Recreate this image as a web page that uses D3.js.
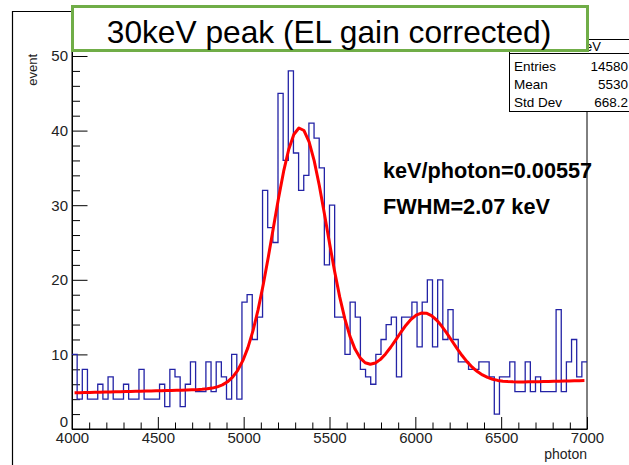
<!DOCTYPE html>
<html>
<head>
<meta charset="utf-8">
<script src="https://cdn.jsdelivr.net/npm/d3@7"></script>
<style>
  html, body { margin: 0; padding: 0; background: #fff; }
  svg { display: block; font-family: "Liberation Sans", Arial, Helvetica, sans-serif; }
</style>
</head>
<body>
<svg id="chart" width="629" height="465"></svg>
<script>
// Histogram: 100 bins of 30 photons from 4000 to 7000
const binStart = 4000;
const binWidth = 30;
const counts = [
  10, 4, 8, 4, 4, 6, 4, 7, 4, 4,
  6, 4, 4, 8, 4, 4, 4, 6, 3, 8,
  7, 3, 6, 9, 5, 5, 9, 5, 9, 7,
  4, 10, 4, 17, 18, 12, 15, 32, 27, 25,
  45, 36, 48, 37, 32, 34, 41, 39, 35, 22,
  30, 15, 15, 10, 17, 15, 8, 7, 6, 10,
  12, 14, 15, 7, 15, 15, 17, 11, 17, 20,
  11, 20, 12, 16, 12, 9, 9, 8, 8, 9,
  9, 7, 2, 7, 7, 9, 5, 5, 9, 5,
  7, 5, 5, 5, 16, 5, 9, 12, 7, 9
];

const xTicks = [4000, 4500, 5000, 5500, 6000, 6500, 7000];
const yTicks = [0, 10, 20, 30, 40, 50];

// Fit: two gaussians on a linear background
const keVPerPhoton = 0.00557;
const fwhmKeV = 2.07;
const peakMeans = [5328, 6046];
const peakAmps = [34.8, 9.6];
const secondSigma = [165];
const bgLevels = [4.85, 6.5];     // background at 4000 and at 7000
const fitRange = [4015, 6985];

const statNames = ["Entries", "Mean", "Std Dev"];
const statValues = ["14580", "5530", "668.2"];

const titleText = "30keV peak (EL gain corrected)";
const noteLines = ["keV/photon=" + keVPerPhoton, "FWHM=" + fwhmKeV + " keV"];

const svg = d3.select("#chart");
const x = d3.scaleLinear().domain([4000, 7000]).range([72, 587]);
const y = d3.scaleLinear().domain([0, 50.67]).range([429, 51]);

// canvas border (left and top)
svg.append("path").attr("d", "M12.5,465 V11.5 H90").attr("fill", "none").attr("stroke", "#000").attr("stroke-width", 1.2);

// frame
svg.append("rect")
  .attr("x", x(4000)).attr("y", y(50.67))
  .attr("width", x(7000) - x(4000)).attr("height", y(0) - y(50.67))
  .attr("fill", "none").attr("stroke", "#000").attr("stroke-width", 1);

// x axis: major and minor ticks pointing into the frame
const xMinor = d3.range(4000, 7001, 100).filter(v => v % 500 !== 0);
svg.append("g").attr("transform", `translate(0,${y(0)})`)
  .call(d3.axisBottom(x).tickValues(xMinor).tickFormat("").tickSize(-6.5).tickSizeOuter(0))
  .call(g => g.select(".domain").remove());
const gx = svg.append("g").attr("transform", `translate(0,${y(0)})`)
  .call(d3.axisBottom(x).tickValues(xTicks).tickFormat(d3.format("d")).tickSize(-12).tickSizeOuter(0).tickPadding(3));
gx.select(".domain").attr("stroke", "#000");
gx.selectAll("text").attr("font-size", 15).attr("fill", "#222").attr("font-family", "Liberation Sans, Arial, sans-serif");

// y axis
const yMinor = d3.range(0, 51, 2).filter(v => v % 10 !== 0);
svg.append("g").attr("transform", `translate(${x(4000)},0)`)
  .call(d3.axisLeft(y).tickValues(yMinor).tickFormat("").tickSize(-8).tickSizeOuter(0))
  .call(g => g.select(".domain").remove());
const gy = svg.append("g").attr("transform", `translate(${x(4000)},0)`)
  .call(d3.axisLeft(y).tickValues(yTicks).tickFormat(d3.format("d")).tickSize(-15.5).tickSizeOuter(0).tickPadding(4));
gy.select(".domain").attr("stroke", "#000");
gy.selectAll("text").attr("font-size", 15).attr("fill", "#222").attr("font-family", "Liberation Sans, Arial, sans-serif");
// lift the zero label clear of the x-axis labels
gy.selectAll(".tick").filter(d => d === 0).select("text").attr("y", -7);

// axis titles
svg.append("text").attr("x", 587).attr("y", 459).attr("text-anchor", "end")
  .attr("font-size", 14).attr("fill", "#222").text("photon");
svg.append("text").attr("transform", "translate(37,54) rotate(-90)").attr("text-anchor", "end")
  .attr("font-size", 13).attr("fill", "#222").text("event");

// histogram outline
const histPts = [];
counts.forEach((c, i) => {
  const lo = binStart + i * binWidth;
  histPts.push([lo, c], [lo + binWidth, c]);
});
svg.append("path")
  .attr("d", d3.line().x(d => x(d[0])).y(d => y(d[1]))(histPts))
  .attr("fill", "none").attr("stroke", "#2323a6").attr("stroke-width", 1.3);

// fit curve
const firstSigma = fwhmKeV / keVPerPhoton / (2 * Math.sqrt(2 * Math.log(2)));
const sigmas = [firstSigma, secondSigma[0]];
function fitValue(p) {
  const bg = bgLevels[0] + (bgLevels[1] - bgLevels[0]) * (p - 4000) / 3000;
  let s = bg;
  peakMeans.forEach((m, k) => {
    s += peakAmps[k] * Math.exp(-0.5 * Math.pow((p - m) / sigmas[k], 2));
  });
  return s;
}
const fitPts = d3.range(0, 101).map(k => {
  const p = fitRange[0] + (fitRange[1] - fitRange[0]) * k / 100;
  return [p, fitValue(p)];
});
svg.append("path")
  .attr("d", d3.line().x(d => x(d[0])).y(d => y(d[1]))(fitPts))
  .attr("fill", "none").attr("stroke", "#ff0000").attr("stroke-width", 3).attr("stroke-linejoin", "round");

// fit annotations
noteLines.forEach((t, i) => {
  svg.append("text").attr("x", 383).attr("y", 178 + i * 36)
    .attr("font-size", 21.7).attr("font-weight", "bold").attr("fill", "#000").text(t);
});

// statistics box
const sb = svg.append("g");
sb.append("rect").attr("x", 509.5).attr("y", 39.5).attr("width", 140).attr("height", 72)
  .attr("fill", "#fff").attr("stroke", "#000").attr("stroke-width", 1);
sb.append("line").attr("x1", 509.5).attr("x2", 629).attr("y1", 53.5).attr("y2", 53.5).attr("stroke", "#000");
sb.append("text").attr("x", 601).attr("y", 50.5).attr("text-anchor", "end").attr("font-size", 13).text("30keV");
statNames.forEach((n, i) => {
  sb.append("text").attr("x", 514).attr("y", 71 + i * 18).attr("font-size", 13.5).text(n);
  sb.append("text").attr("x", 628).attr("y", 71 + i * 18).attr("text-anchor", "end").attr("font-size", 13.5).text(statValues[i]);
});

// title box
svg.append("rect").attr("x", 72.5).attr("y", 6.5).attr("width", 515).attr("height", 44)
  .attr("fill", "#fff").attr("stroke", "#70ad47").attr("stroke-width", 3);
svg.append("text").attr("x", 329).attr("y", 42.5).attr("text-anchor", "middle")
  .attr("font-size", 31.7).attr("fill", "#000").text(titleText);
</script>
</body>
</html>
